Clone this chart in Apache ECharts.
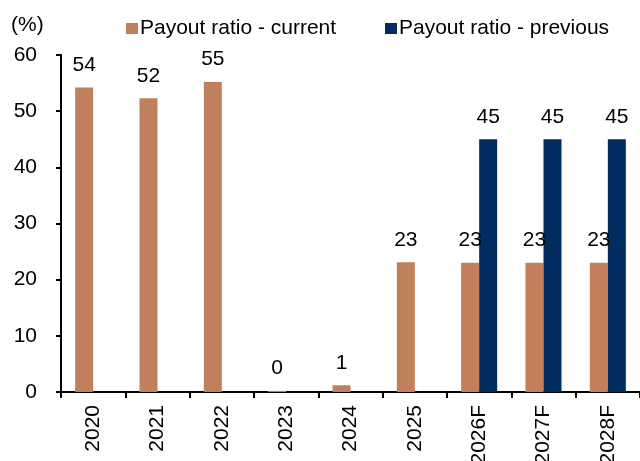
<!DOCTYPE html>
<html>
<head>
<meta charset="utf-8">
<script src="https://cdn.jsdelivr.net/npm/echarts@6/dist/echarts.min.js"></script>
<style>
html,body{margin:0;padding:0;background:#fff;}
#main{width:640px;height:461px;}
</style>
</head>
<body>
<div id="main"></div>
<script>
var categories = ['2020','2021','2022','2023','2024','2025','2026F','2027F','2028F'];
var currentValues = [54.2, 52.3, 55.2, 0.2, 1.2, 23.1, 23, 23, 23];
var previousValues = [null, null, null, null, null, null, 45, 45, 45];
var yTicks = [0, 10, 20, 30, 40, 50, 60];

var FONT = 'Arial, "Liberation Sans", sans-serif';
var BROWN = '#C0805B';
var NAVY = '#022B60';

var chart = echarts.init(document.getElementById('main'));
chart.setOption({
  animation: false,
  textStyle: { fontFamily: FONT, color: '#000' },
  title: {
    text: '(%)', left: 6, top: 10,
    textStyle: { fontFamily: FONT, fontSize: 21, fontWeight: 'normal', color: '#000' }
  },
  legend: [
    {
      data: ['Payout ratio - current'], left: 121, top: 13,
      itemWidth: 12, itemHeight: 11, icon: 'rect',
      textStyle: { fontFamily: FONT, fontSize: 21, color: '#000', padding: [0,0,0,-3] }
    },
    {
      data: ['Payout ratio - previous'], left: 380, top: 13,
      itemWidth: 12, itemHeight: 11, icon: 'rect',
      textStyle: { fontFamily: FONT, fontSize: 21, color: '#000', padding: [0,0,0,-3] }
    }
  ],
  grid: { left: 61, right: 0, top: 55, bottom: 69, containLabel: false, outerBoundsMode: 'none' },
  xAxis: {
    type: 'category',
    data: categories,
    axisLine: { lineStyle: { color: '#000', width: 2 } },
    axisTick: { show: true, length: 6, lineStyle: { color: '#000', width: 2 } },
    axisLabel: { rotate: 90, margin: 13, fontSize: 21, fontFamily: FONT, color: '#000', interval: 0 }
  },
  yAxis: {
    type: 'value',
    min: yTicks[0], max: yTicks[yTicks.length - 1], interval: 10,
    splitLine: { show: false },
    axisLine: { show: true, lineStyle: { color: '#000', width: 2 } },
    axisTick: { show: true, length: 5, lineStyle: { color: '#000', width: 2 } },
    axisLabel: { margin: 24, fontSize: 21, fontFamily: FONT, color: '#000' }
  },
  series: [
    {
      name: 'Payout ratio - current', type: 'bar',
      data: currentValues, barWidth: 18, barGap: '0%',
      itemStyle: { color: BROWN },
      label: {
        show: true, position: 'top', distance: 12,
        fontSize: 21, fontFamily: FONT, color: '#000',
        formatter: function (p) { return Math.round(p.value); }
      }
    },
    {
      name: 'Payout ratio - previous', type: 'bar',
      data: previousValues, barWidth: 18,
      itemStyle: { color: NAVY },
      label: {
        show: true, position: 'top', distance: 12,
        fontSize: 21, fontFamily: FONT, color: '#000',
        formatter: function (p) { return p.value == null ? '' : Math.round(p.value); }
      }
    }
  ]
});
</script>
</body>
</html>
